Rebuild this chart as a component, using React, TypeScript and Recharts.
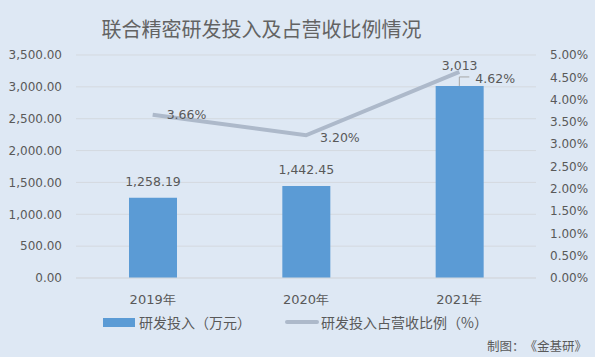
import React from 'react';
import { ComposedChart, Bar, Line, XAxis, YAxis, CartesianGrid, LabelList } from 'recharts';

const years = ['2019年', '2020年', '2021年'];
const rdSpend = [1258.19, 1442.45, 3013];
const rdSpendLabels = ['1,258.19', '1,442.45', '3,013'];
const rdRatio = [3.66, 3.2, 4.62];
const leftTicks = [0, 500, 1000, 1500, 2000, 2500, 3000, 3500];
const rightTicks = [0, 0.5, 1, 1.5, 2, 2.5, 3, 3.5, 4, 4.5, 5];

const data = years.map((year, i) => ({
  year,
  spend: rdSpend[i],
  spendLabel: rdSpendLabels[i],
  ratio: rdRatio[i],
}));

const BG = '#dee8f4';
const TEXT = '#595959';
const BAR = '#5b9bd5';
const LINE = '#adb9ca';
const NUM_FONT = '"DejaVu Sans", Verdana, sans-serif';
const CJK_FONT = '"Noto Sans CJK SC", sans-serif';

const fmtLeft = (v: number) =>
  v.toLocaleString('en-US', { minimumFractionDigits: 2, maximumFractionDigits: 2 });

const RatioLabel = (props: any) => {
  const { x, y, value, index } = props;
  const last = index === data.length - 1;
  const dy = last ? 7 : index === 1 ? 2 : 0;
  return (
    <g>
      {last && (
        <path d={`M${x + 10},${y + 5} L${x},${y + 5} L${x},${y + 14}`} stroke="#a6a6a6" fill="none" strokeWidth={1} />
      )}
      <text
        x={x + (last ? 16 : 14)}
        y={y + dy}
        dy="0.35em"
        fill={TEXT}
        fontSize={12.5}
        fontFamily={NUM_FONT}
        textAnchor="start"
      >
        {`${value.toFixed(2)}%`}
      </text>
    </g>
  );
};

const SpendLabel = (props: any) => {
  const { x, y, width, value, index } = props;
  const last = index === data.length - 1;
  return (
    <text
      x={x + width / 2}
      y={last ? y - 16 : y - 12}
      fill={TEXT}
      fontSize={12.5}
      fontFamily={NUM_FONT}
      textAnchor="middle"
    >
      {value}
    </text>
  );
};

export default function App() {
  return (
    <div
      style={{
        position: 'absolute',
        left: 0,
        top: 0,
        width: 595,
        height: 357,
        background: BG,
        overflow: 'hidden',
      }}
    >
      <div
        style={{
          position: 'absolute',
          left: 0,
          width: 523,
          top: 14,
          textAlign: 'center',
          fontFamily: CJK_FONT,
          fontSize: 20,
          color: '#636363',
          lineHeight: '30px',
        }}
      >
        联合精密研发投入及占营收比例情况
      </div>
      <ComposedChart
        width={595}
        height={357}
        data={data}
        margin={{ top: 55, right: 0, bottom: 49, left: 0 }}
      >
        <CartesianGrid yAxisId="left" vertical={false} stroke="#d4d9df" />
        <XAxis
          dataKey="year"
          axisLine={{ stroke: '#d4d9df' }}
          tickLine={false}
          height={30}
          tick={{ fill: TEXT, fontSize: 13, fontFamily: NUM_FONT }}
          tickMargin={11}
        />
        <YAxis
          yAxisId="left"
          width={76}
          domain={[0, 3500]}
          ticks={leftTicks}
          tickFormatter={fmtLeft}
          axisLine={false}
          tickLine={false}
          tickSize={0}
          tickMargin={14}
          tick={{ fill: TEXT, fontSize: 12, fontFamily: NUM_FONT }}
        />
        <YAxis
          yAxisId="right"
          orientation="right"
          width={59}
          domain={[0, 5]}
          ticks={rightTicks}
          tickFormatter={(v: number) => `${v.toFixed(2)}%`}
          axisLine={false}
          tickLine={false}
          tickSize={0}
          tickMargin={14}
          tick={{ fill: TEXT, fontSize: 12, fontFamily: NUM_FONT, textAnchor: 'start' }}
        />
        <Bar yAxisId="left" dataKey="spend" fill={BAR} barSize={48} isAnimationActive={false}>
          <LabelList dataKey="spendLabel" content={SpendLabel} />
        </Bar>
        <Line
          yAxisId="right"
          dataKey="ratio"
          type="linear"
          stroke={LINE}
          strokeWidth={4}
          dot={false}
          isAnimationActive={false}
        >
          <LabelList dataKey="ratio" content={RatioLabel} />
        </Line>
      </ComposedChart>
      <div
        style={{
          position: 'absolute',
          top: 312,
          left: 103,
          display: 'flex',
          alignItems: 'center',
          fontFamily: CJK_FONT,
          fontSize: 14,
          color: TEXT,
          lineHeight: '20px',
          textSpacingTrim: 'space-all',
        } as any}
      >
        <span style={{ display: 'inline-block', width: 32, height: 9, background: BAR, marginRight: 4 }} />
        <span>研发投入（万元）</span>
        <span style={{ display: 'inline-block', width: 34, height: 4, borderRadius: 2, background: LINE, marginLeft: 34, marginRight: 2 }} />
        <span>研发投入占营收比例（%）</span>
      </div>
      <div
        style={{
          position: 'absolute',
          right: 8,
          top: 337,
          fontFamily: CJK_FONT,
          fontSize: 12.5,
          color: TEXT,
          lineHeight: '18px',
          textSpacingTrim: 'space-all',
        } as any}
      >
        制图：《金基研》
      </div>
    </div>
  );
}
